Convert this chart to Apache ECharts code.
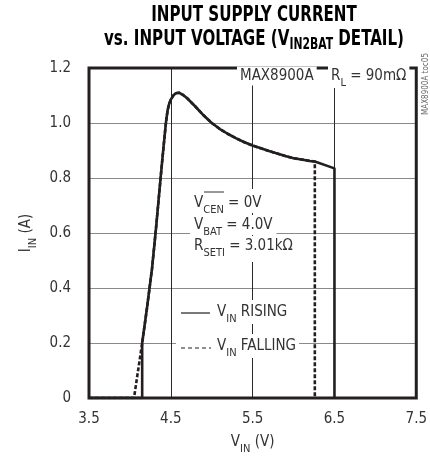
<!DOCTYPE html>
<html><head><meta charset="utf-8">
<script src="https://cdn.jsdelivr.net/npm/echarts@6/dist/echarts.min.js"></script>
<style>html,body{margin:0;padding:0;background:#fff}#c{width:430px;height:464px}</style>
</head><body><div id="c"></div>
<script>
// ---- data ----
const risingV = [3.5, 4.15, 4.15, 4.21, 4.27, 4.32, 4.375, 4.41, 4.44, 4.46, 4.48, 4.5, 4.53, 4.56, 4.6, 4.65, 4.7, 4.8, 4.9, 5.0, 5.1, 5.2, 5.3, 5.4, 5.5, 5.6, 5.7, 5.8, 5.9, 6.0, 6.1, 6.2, 6.26, 6.5, 6.5];
const risingI = [0, 0, 0.2, 0.33, 0.47, 0.62, 0.8, 0.91, 1.0, 1.045, 1.07, 1.085, 1.1, 1.108, 1.11, 1.102, 1.09, 1.06, 1.028, 1.0, 0.978, 0.96, 0.944, 0.93, 0.918, 0.908, 0.898, 0.889, 0.88, 0.872, 0.867, 0.862, 0.86, 0.835, 0];
const fallingV = [3.5, 4.05, 4.15, 4.21, 4.27, 4.32, 4.375, 4.41, 4.44, 4.46, 4.48, 4.5, 4.53, 4.56, 4.6, 4.65, 4.7, 4.8, 4.9, 5.0, 5.1, 5.2, 5.3, 5.4, 5.5, 5.6, 5.7, 5.8, 5.9, 6.0, 6.1, 6.2, 6.26, 6.26];
const fallingI = [0, 0, 0.2, 0.33, 0.47, 0.62, 0.8, 0.91, 1.0, 1.045, 1.07, 1.085, 1.1, 1.108, 1.11, 1.102, 1.09, 1.06, 1.028, 1.0, 0.978, 0.96, 0.944, 0.93, 0.918, 0.908, 0.898, 0.889, 0.88, 0.872, 0.867, 0.862, 0.86, 0];
const xTicks = [3.5, 4.5, 5.5, 6.5, 7.5];
const yTicks = [0, 0.2, 0.4, 0.6, 0.8, 1.0, 1.2];

const FONT = "'Liberation Sans Narrow','DejaVu Sans Condensed','Liberation Sans',sans-serif";
const TXT = '#333';
const INK = '#231f20';

const subRich = (fs) => ({
  n: { fontFamily: FONT, fontSize: fs, color: TXT, lineHeight: 20 },
  s: { fontFamily: FONT, fontSize: Math.round(fs * 0.72), color: TXT, lineHeight: 20, verticalAlign: 'bottom', padding: [0, 0, -3, 0] }
});

const chart = echarts.init(document.getElementById('c'), null, { renderer: 'canvas' });

function txt(x, y, text, extra) {
  return Object.assign({
    type: 'text', x: x, y: y, z: 5,
    style: Object.assign({
      text: text, rich: subRich(15), fontFamily: FONT, fontSize: 15, fill: TXT,
      verticalAlign: 'middle', align: 'left',
      backgroundColor: '#fff', padding: [2, 3, 2, 3]
    }, extra || {})
  });
}

const titleRich = {
  t: { fontFamily: FONT, fontSize: 21, fontWeight: 'bold', color: '#111', lineHeight: 23 },
  s: { fontFamily: FONT, fontSize: 15, fontWeight: 'bold', color: '#111', lineHeight: 23, verticalAlign: 'bottom', padding: [0, 0, -2, 0] }
};

chart.setOption({
  animation: false,
  grid: { left: 89, right: 9, top: 68, bottom: 66, show: true, borderColor: INK, borderWidth: 3, z: 4 },
  xAxis: {
    type: 'value', min: xTicks[0], max: xTicks[xTicks.length - 1], interval: 1,
    axisLine: { show: false }, axisTick: { show: false },
    axisLabel: { fontFamily: FONT, fontSize: 15, color: TXT, margin: 14, formatter: v => v.toFixed(1) },
    splitLine: { show: true, lineStyle: { color: '#2a2a2a', width: 1 } },
    name: 'V{s|IN} (V)', nameLocation: 'middle', nameGap: 34,
    nameTextStyle: { fontFamily: FONT, fontSize: 15, color: TXT, rich: subRich(15) }
  },
  yAxis: {
    type: 'value', min: yTicks[0], max: yTicks[yTicks.length - 1], interval: 0.2,
    axisLine: { show: false }, axisTick: { show: false },
    axisLabel: { fontFamily: FONT, fontSize: 15, color: TXT, margin: 18, formatter: v => v === 0 ? '0' : v.toFixed(1) },
    splitLine: { show: true, lineStyle: { color: '#8a8a8a', width: 1 } },
    name: 'I{s|IN} (A)', nameLocation: 'middle', nameGap: 51, nameRotate: 90,
    nameTextStyle: { fontFamily: FONT, fontSize: 15, color: TXT, rich: subRich(15) }
  },
  series: [
    {
      name: 'VIN RISING', type: 'line', z: 10, symbol: 'none', smooth: false,
      data: risingV.map((v, i) => [v, risingI[i]]),
      lineStyle: { color: INK, width: 2.6, type: 'solid', join: 'round' }
    },
    {
      name: 'VIN FALLING', type: 'line', z: 9, symbol: 'none', smooth: false,
      data: fallingV.map((v, i) => [v, fallingI[i]]),
      lineStyle: { color: INK, width: 2.6, type: [4, 2], join: 'round' }
    }
  ],
  graphic: [
    {
      type: 'text', x: 254, y: 4, scaleX: 0.8, z: 5,
      style: { text: '{t|INPUT SUPPLY CURRENT}', rich: titleRich, align: 'center', verticalAlign: 'top' }
    },
    {
      type: 'text', x: 254, y: 28, scaleX: 0.8, z: 5,
      style: { text: '{t|vs. INPUT VOLTAGE (V}{s|IN2BAT}{t| DETAIL)}', rich: titleRich, align: 'center', verticalAlign: 'top' }
    },
    txt(237, 76, 'MAX8900A'),
    txt(328, 76, '{n|R}{s|L}{n| = 90mΩ}'),
    txt(190, 201, '{n|V}{s|CEN}{n| = 0V}', { padding: [4, 4, 0, 4] }),
    txt(190, 225, '{n|V}{s|BAT}{n| = 4.0V}', { padding: [0, 4, 0, 4] }),
    txt(190, 249, '{n|R}{s|SETI}{n| = 3.01kΩ}', { padding: [0, 4, 6, 4] }),
    { type: 'line', z: 6, shape: { x1: 204, y1: 192, x2: 224, y2: 192 }, style: { stroke: TXT, lineWidth: 1 } },
    { type: 'rect', z: 5, shape: { x: 176, y: 302, width: 38, height: 20 }, style: { fill: '#fff' } },
    { type: 'line', z: 6, shape: { x1: 181, y1: 313, x2: 210, y2: 313 }, style: { stroke: INK, lineWidth: 1.2 } },
    txt(214, 312, '{n|V}{s|IN}{n| RISING}'),
    { type: 'rect', z: 5, shape: { x: 176, y: 338, width: 38, height: 20 }, style: { fill: '#fff' } },
    { type: 'line', z: 6, shape: { x1: 181, y1: 348, x2: 211, y2: 348 }, style: { stroke: INK, lineWidth: 1.2, lineDash: [4, 3] } },
    txt(214, 346, '{n|V}{s|IN}{n| FALLING}'),
    {
      type: 'text', x: 426, y: 84, rotation: Math.PI / 2, z: 5,
      style: { text: 'MAX8900A toc05', fontFamily: FONT, fontSize: 8, fill: '#666', align: 'center', verticalAlign: 'middle' }
    }
  ]
});
</script>
</body></html>
